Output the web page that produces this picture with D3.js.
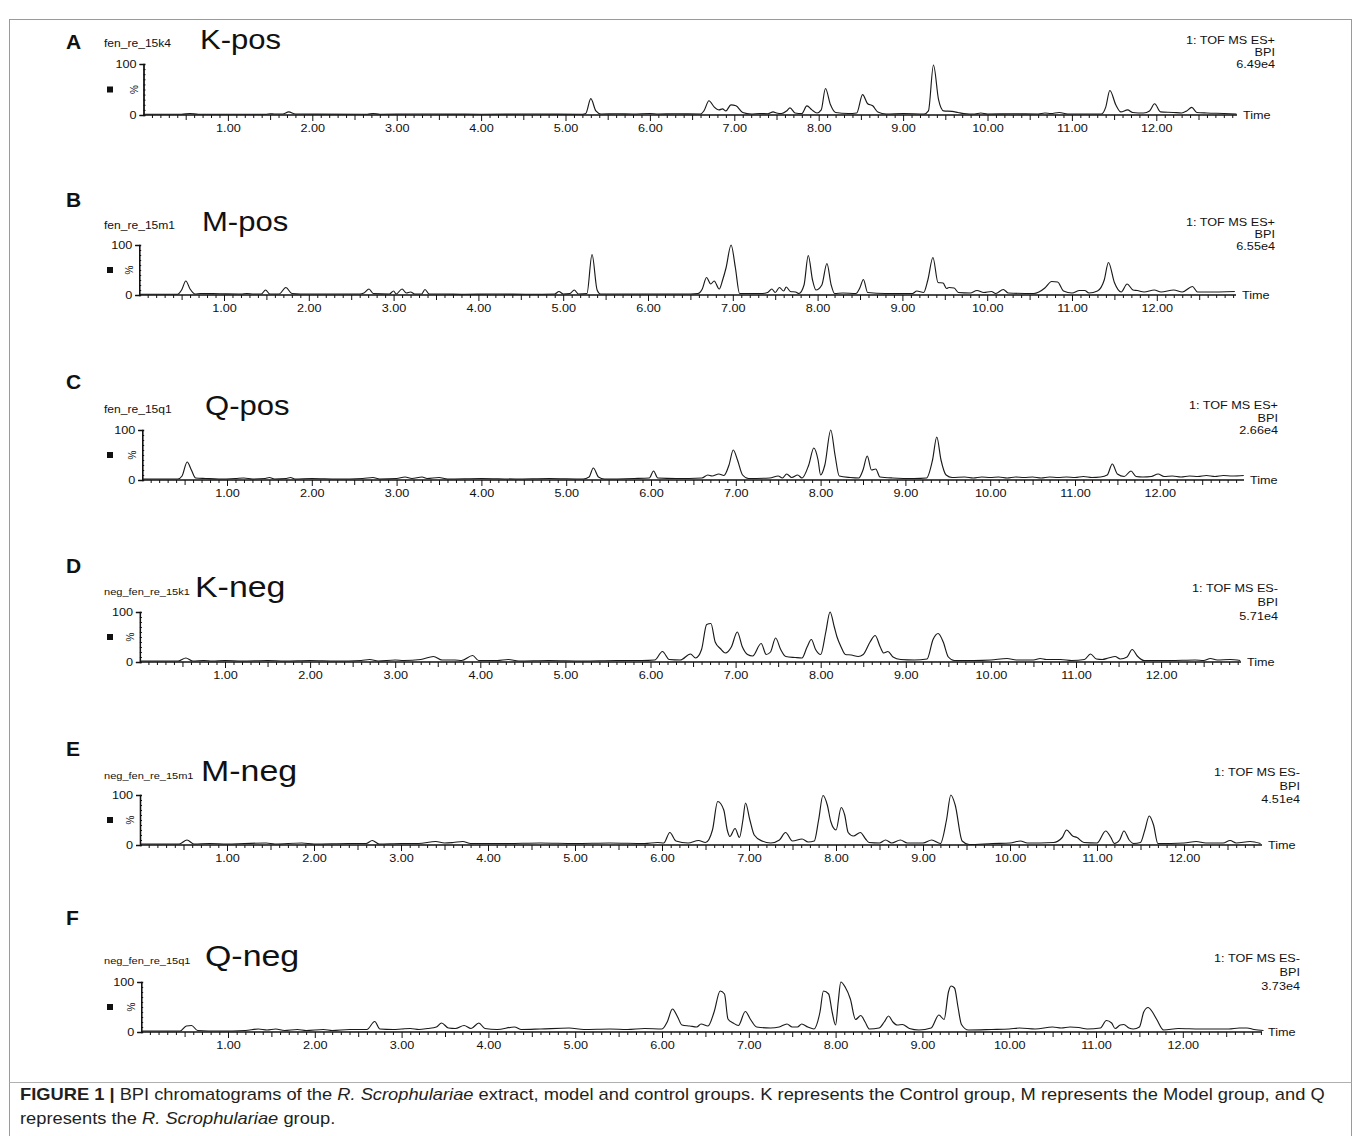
<!DOCTYPE html>
<html>
<head>
<meta charset="utf-8">
<script src="https://cdn.jsdelivr.net/npm/d3@7"></script>
<style>
  body { margin: 0; background: #fff; }
  svg { display: block; font-family: "Liberation Sans", Arial, sans-serif; }
</style>
</head>
<body>
<script>
// chromatogram traces: [retention time (min), relative intensity (%)]
const kPos = [[0,1.5],[0.45,1.5],[0.55,3],[0.65,1.5],[1.45,1.5],[1.5,2.5],[1.55,2],[1.65,2],[1.72,6],[1.8,2],[2.65,1.5],[2.72,3],[2.8,1.5],[3.2,2],[4.0,1.5],[4.6,2],[5.2,1.5],[5.24,3],[5.3,32],[5.36,8],[5.42,2],[5.6,2.5],[5.8,2],[6.0,3],[6.1,2],[6.3,2.5],[6.6,2],[6.64,8],[6.7,28],[6.76,16],[6.82,10],[6.86,12],[6.9,8],[6.96,20],[7.02,18],[7.1,5],[7.2,2],[7.3,3],[7.4,2.5],[7.46,6],[7.5,4],[7.56,3],[7.62,8],[7.66,14],[7.72,4],[7.8,3],[7.86,18],[7.92,10],[7.98,4],[8.03,10],[8.08,52],[8.14,20],[8.2,5],[8.35,3],[8.45,4],[8.52,40],[8.58,22],[8.64,18],[8.7,6],[8.8,2],[9.0,3],[9.25,2],[9.3,8],[9.36,98],[9.42,30],[9.48,8],[9.58,7],[9.65,5],[9.72,3],[9.85,2],[9.92,4],[10.0,2],[10.3,2.5],[10.6,2],[10.68,4],[10.75,3],[10.85,5],[10.95,2],[11.35,2],[11.4,15],[11.45,48],[11.52,20],[11.58,6],[11.66,10],[11.72,5],[11.85,4],[11.92,8],[11.98,22],[12.05,6],[12.2,5],[12.3,4],[12.36,8],[12.42,15],[12.48,5],[12.6,4],[12.8,3],[12.95,2]];
const mPos = [[0,1.5],[0.45,1.5],[0.5,10],[0.55,28],[0.6,12],[0.66,2],[0.72,3],[0.95,2.5],[1.2,2],[1.27,3],[1.35,2],[1.44,2],[1.49,10],[1.54,2],[1.65,2],[1.73,15],[1.8,3],[1.9,2],[2.6,2],[2.65,4],[2.71,12],[2.76,3],[2.95,2],[3.0,8],[3.03,2],[3.1,12],[3.15,4],[3.2,6],[3.25,2],[3.33,2],[3.37,11],[3.42,2],[3.6,2],[3.8,1.5],[4.2,2],[4.6,1.5],[4.9,2],[4.95,7],[5.0,2],[5.08,3],[5.13,10],[5.18,2],[5.28,3],[5.34,81],[5.4,10],[5.44,2],[5.7,2],[6.0,2],[6.5,2],[6.59,3],[6.64,12],[6.69,35],[6.74,22],[6.78,28],[6.84,12],[6.88,30],[6.92,54],[6.98,100],[7.03,55],[7.08,3],[7.35,3],[7.41,5],[7.46,12],[7.5,5],[7.55,15],[7.6,8],[7.63,16],[7.68,7],[7.74,6],[7.78,3],[7.84,20],[7.89,79],[7.94,30],[7.98,10],[8.05,20],[8.11,63],[8.16,20],[8.2,3],[8.3,4],[8.45,3],[8.5,15],[8.54,31],[8.59,5],[8.8,3],[9.12,3],[9.17,8],[9.25,5],[9.3,30],[9.36,75],[9.42,25],[9.48,24],[9.52,13],[9.55,15],[9.61,14],[9.66,5],[9.8,4],[9.88,9],[9.96,5],[10.05,7],[10.1,3],[10.19,11],[10.25,4],[10.55,3],[10.61,6],[10.68,14],[10.76,27],[10.83,26],[10.9,8],[11.0,4],[11.09,9],[11.15,9],[11.2,4],[11.3,8],[11.38,30],[11.43,65],[11.5,25],[11.58,6],[11.65,22],[11.72,10],[11.77,9],[11.85,6],[11.97,10],[12.05,6],[12.2,10],[12.3,6],[12.42,17],[12.48,6],[12.6,6],[12.92,7]];
const qPos = [[0,2],[0.42,2],[0.47,8],[0.53,36],[0.58,20],[0.63,4],[0.75,3],[0.9,2],[1.1,3],[1.2,4],[1.3,2],[1.45,3],[1.5,5],[1.56,2],[1.7,3],[1.75,5],[1.8,2],[2.0,3],[2.3,2],[2.6,3],[2.72,5],[2.8,2],[3.0,3],[3.1,6],[3.18,3],[3.3,6],[3.36,3],[3.5,5],[3.6,2],[4.0,3],[4.4,2],[4.8,3],[5.2,2],[5.27,6],[5.32,24],[5.38,6],[5.45,2],[5.8,3],[5.98,4],[6.03,18],[6.08,4],[6.3,3],[6.6,4],[6.67,10],[6.72,8],[6.8,12],[6.86,9],[6.92,30],[6.97,60],[7.02,40],[7.08,10],[7.15,3],[7.4,4],[7.5,8],[7.55,4],[7.6,12],[7.66,5],[7.73,10],[7.78,4],[7.86,30],[7.92,64],[7.97,40],[8.0,10],[8.05,30],[8.12,100],[8.17,50],[8.22,8],[8.35,5],[8.45,4],[8.5,20],[8.55,48],[8.6,20],[8.65,22],[8.7,6],[8.85,4],[9.1,3],[9.25,4],[9.32,40],[9.37,86],[9.42,40],[9.48,10],[9.55,5],[9.7,6],[9.8,4],[9.9,6],[10.0,5],[10.1,6],[10.2,4],[10.3,6],[10.4,5],[10.5,6],[10.6,4],[10.7,6],[10.8,5],[10.9,6],[11.0,5],[11.1,7],[11.2,5],[11.3,6],[11.38,10],[11.44,32],[11.5,12],[11.58,7],[11.66,18],[11.72,7],[11.8,6],[11.9,7],[11.98,12],[12.05,7],[12.15,8],[12.25,6],[12.35,8],[12.45,7],[12.55,9],[12.65,7],[12.75,9],[12.85,8],[12.99,9]];
const kNeg = [[0,2],[0.45,2],[0.54,8],[0.62,2],[0.75,3],[0.85,2],[1.0,3],[1.2,2],[1.5,3],[1.7,2],[2.0,3],[2.3,2],[2.6,3],[2.7,5],[2.8,2],[3.0,4],[3.1,3],[3.3,5],[3.45,11],[3.55,4],[3.7,4],[3.78,3],[3.91,13],[3.98,3],[4.2,3],[4.33,5],[4.45,2],[4.8,3],[5.2,2],[5.6,3],[5.9,3],[6.05,4],[6.14,21],[6.22,5],[6.35,4],[6.47,16],[6.53,8],[6.6,25],[6.66,75],[6.71,77],[6.76,40],[6.82,27],[6.88,18],[6.95,30],[7.02,60],[7.08,30],[7.14,15],[7.2,12],[7.3,37],[7.36,15],[7.41,20],[7.47,48],[7.53,25],[7.59,11],[7.7,9],[7.78,8],[7.84,30],[7.89,45],[7.94,25],[8.0,15],[8.06,60],[8.11,100],[8.16,70],[8.19,51],[8.24,30],[8.29,15],[8.36,14],[8.44,11],[8.5,15],[8.58,40],[8.64,53],[8.7,30],[8.74,18],[8.79,21],[8.85,10],[8.94,5],[9.1,4],[9.25,6],[9.32,45],[9.38,57],[9.44,40],[9.5,10],[9.57,3],[9.8,3],[10.0,4],[10.19,7],[10.3,4],[10.5,4],[10.58,7],[10.65,5],[10.72,5],[10.82,5],[10.95,3],[11.1,5],[11.17,16],[11.24,6],[11.31,5],[11.38,8],[11.46,11],[11.52,6],[11.6,10],[11.66,25],[11.72,12],[11.8,3],[12.1,3],[12.4,4],[12.5,3],[12.58,7],[12.66,4],[12.81,5],[12.93,3]];
const mNeg = [[0,2],[0.45,2],[0.54,10],[0.62,2],[0.8,3],[1.0,2],[1.2,3],[1.45,4],[1.55,2],[1.86,4],[2.0,2],[2.4,3],[2.6,3],[2.67,9],[2.75,2],[3.0,3],[3.2,3],[3.4,7],[3.5,4],[3.6,5],[3.71,7],[3.8,3],[4.2,3],[4.6,4],[5.0,3],[5.4,4],[5.8,3],[5.95,5],[6.02,4],[6.09,25],[6.16,8],[6.3,4],[6.42,9],[6.5,5],[6.58,30],[6.64,87],[6.71,70],[6.75,30],[6.78,17],[6.84,33],[6.89,15],[6.93,50],[6.96,84],[7.01,50],[7.06,20],[7.15,8],[7.25,4],[7.35,10],[7.42,25],[7.5,8],[7.61,12],[7.68,6],[7.75,8],[7.8,50],[7.85,99],[7.9,80],[7.94,47],[8.0,30],[8.06,75],[8.1,60],[8.14,25],[8.2,18],[8.28,25],[8.34,12],[8.38,5],[8.5,4],[8.57,10],[8.64,4],[8.74,10],[8.82,4],[9.0,4],[9.1,10],[9.2,3],[9.27,50],[9.32,100],[9.37,80],[9.45,8],[9.53,1],[9.8,3],[10.0,4],[10.12,8],[10.2,4],[10.5,5],[10.6,15],[10.65,30],[10.72,18],[10.77,15],[10.85,5],[11.0,4],[11.1,28],[11.16,15],[11.2,3],[11.26,10],[11.31,28],[11.37,10],[11.42,3],[11.5,5],[11.55,30],[11.6,58],[11.65,40],[11.7,3],[12.0,4],[12.14,7],[12.25,4],[12.45,4],[12.53,9],[12.6,4],[12.76,7],[12.88,3]];
const qNeg = [[0,2],[0.45,2],[0.52,12],[0.58,13],[0.65,3],[0.9,2],[1.2,3],[1.35,6],[1.45,4],[1.55,6],[1.65,3],[1.8,5],[1.9,3],[2.1,5],[2.2,3],[2.4,5],[2.6,5],[2.69,21],[2.75,6],[2.9,5],[3.0,6],[3.1,7],[3.2,5],[3.3,7],[3.4,10],[3.46,18],[3.54,8],[3.62,7],[3.72,13],[3.8,7],[3.89,18],[3.96,7],[4.1,5],[4.3,10],[4.38,5],[4.6,6],[4.93,8],[5.1,5],[5.4,6],[5.6,5],[5.8,7],[6.0,6],[6.06,20],[6.12,46],[6.18,30],[6.23,14],[6.32,12],[6.4,10],[6.45,16],[6.53,12],[6.6,40],[6.67,82],[6.72,76],[6.76,26],[6.82,18],[6.88,13],[6.96,41],[7.02,25],[7.09,10],[7.25,8],[7.35,10],[7.44,16],[7.5,10],[7.56,10],[7.61,16],[7.68,10],[7.75,6],[7.82,40],[7.86,82],[7.92,76],[7.96,40],[8.0,14],[8.03,60],[8.06,100],[8.11,90],[8.17,66],[8.23,25],[8.29,33],[8.34,20],[8.39,6],[8.5,8],[8.56,20],[8.61,32],[8.66,20],[8.71,14],[8.77,15],[8.85,7],[8.96,4],[9.1,8],[9.19,34],[9.25,25],[9.3,80],[9.33,92],[9.37,88],[9.41,50],[9.45,15],[9.53,4],[9.8,5],[10.0,6],[10.12,8],[10.3,6],[10.5,10],[10.6,8],[10.7,10],[10.8,9],[10.9,6],[11.05,8],[11.12,23],[11.18,18],[11.22,7],[11.28,14],[11.32,15],[11.38,8],[11.43,6],[11.5,10],[11.55,40],[11.6,49],[11.65,40],[11.7,25],[11.78,4],[11.95,7],[12.2,6],[12.53,6],[12.65,8],[12.74,8],[12.82,5],[12.93,3]];

const traces = [kPos, mPos, qPos, kNeg, mNeg, qNeg];
const panelLetters = ["A", "B", "C", "D", "E", "F"];
const sampleNames = ["fen_re_15k4", "fen_re_15m1", "fen_re_15q1", "neg_fen_re_15k1", "neg_fen_re_15m1", "neg_fen_re_15q1"];
const groupTitles = ["K-pos", "M-pos", "Q-pos", "K-neg", "M-neg", "Q-neg"];
const scanModes = ["1: TOF MS ES+", "1: TOF MS ES+", "1: TOF MS ES+", "1: TOF MS ES-", "1: TOF MS ES-", "1: TOF MS ES-"];
const bpiMax = ["6.49e4", "6.55e4", "2.66e4", "5.71e4", "4.51e4", "3.73e4"];
const timeTicks = [1, 2, 3, 4, 5, 6, 7, 8, 9, 10, 11, 12];
const pctTicks = [0, 100];

// page positions of each panel (px)
const layout = [
  { top: 64,  base: 115,  x0: 143.5, perMin: 84.4, xEnd: 1237, letterY: 49,  titleY: 49,  titleX: 200, infoX: 1275, infoY: 44,  infoGap: 12 },
  { top: 245, base: 295,  x0: 139.2, perMin: 84.8, xEnd: 1236, letterY: 207, titleY: 231, titleX: 202, infoX: 1275, infoY: 226, infoGap: 12 },
  { top: 430, base: 480,  x0: 142.2, perMin: 84.8, xEnd: 1244, letterY: 389, titleY: 415, titleX: 205, infoX: 1278, infoY: 409, infoGap: 12.5 },
  { top: 612, base: 662,  x0: 139.9, perMin: 85.1, xEnd: 1241, letterY: 573, titleY: 597, titleX: 195, infoX: 1278, infoY: 592, infoGap: 14 },
  { top: 795, base: 845,  x0: 140,   perMin: 87.0, xEnd: 1262, letterY: 756, titleY: 781, titleX: 201, infoX: 1300, infoY: 776, infoGap: 13.5 },
  { top: 982, base: 1032, x0: 141.2, perMin: 86.8, xEnd: 1262, letterY: 925, titleY: 966, titleX: 205, infoX: 1300, infoY: 962, infoGap: 14 }
];

const W = 1355, H = 1136;
const SX = 1.15; // the source figure text is a little stretched horizontally

const svg = d3.select("body").append("svg").attr("width", W).attr("height", H);

// outer frame + caption divider
svg.append("rect")
  .attr("x", 9.5).attr("y", 19.5).attr("width", 1342).attr("height", 1140)
  .attr("fill", "none").attr("stroke", "#9a9a9a");
svg.append("line")
  .attr("x1", 9.5).attr("x2", 1351.5).attr("y1", 1082.5).attr("y2", 1082.5)
  .attr("stroke", "#b0b0b0");

function putText(g, x, y, str, size, opts = {}) {
  return g.append("text")
    .attr("transform", `translate(${x},${y}) scale(${opts.sx || SX},1)`)
    .attr("font-size", size)
    .attr("font-weight", opts.bold ? "bold" : null)
    .attr("text-anchor", opts.anchor || "start")
    .attr("fill", "#111")
    .text(str);
}

traces.forEach((data, i) => {
  const L = layout[i];
  const g = svg.append("g");

  const x = d3.scaleLinear()
    .domain([0, (L.xEnd - L.x0) / L.perMin])
    .range([L.x0, L.xEnd]);
  const y = d3.scaleLinear().domain([0, 100]).range([L.base, L.top]);

  // headers
  putText(g, 66, L.letterY, panelLetters[i], 21, { bold: true, sx: 1 });
  const neg = i >= 3;
  putText(g, 104, L.titleY - 2, sampleNames[i], neg ? 9.6 : 10.5);
  putText(g, L.titleX, L.titleY, groupTitles[i], neg ? 29.5 : 27);

  [scanModes[i], "BPI", bpiMax[i]].forEach((s, k) => {
    putText(g, L.infoX, L.infoY + k * L.infoGap, s, 11, { anchor: "end" });
  });

  // time axis: minor 0.1, half 0.5, labelled whole minutes
  const tMax = x.domain()[1];
  const minor = d3.range(1, Math.floor(tMax * 10) + 1).map(v => v / 10).filter(v => Math.round(v * 10) % 5 !== 0);
  const halves = d3.range(0.5, tMax, 1);

  const xg = g.append("g").attr("transform", `translate(0,${L.base})`);
  xg.append("g").call(d3.axisBottom(x).tickValues(minor).tickSize(3).tickFormat(""));
  xg.append("g").call(d3.axisBottom(x).tickValues(halves).tickSize(5).tickFormat(""));
  xg.append("g").call(d3.axisBottom(x).tickValues(timeTicks).tickSize(6).tickFormat(d3.format(".2f")));
  xg.selectAll(".domain").remove();
  xg.selectAll("line").attr("stroke", "#111");
  xg.selectAll("text")
    .attr("font-size", 11).attr("font-family", null).attr("fill", "#111")
    .attr("y", 9).attr("transform", `scale(${SX},1)`);
  xg.append("line")
    .attr("x1", L.x0).attr("x2", L.xEnd).attr("stroke", "#111").attr("stroke-width", 1.6);

  putText(g, L.xEnd + 6, L.base + 4, "Time", 11);

  // intensity axis
  const yg = g.append("g").attr("transform", `translate(${L.x0},0)`);
  yg.call(d3.axisLeft(y).tickValues(pctTicks).tickSize(4).tickPadding(1).tickFormat(d3.format("d")));
  yg.append("g").call(d3.axisRight(y).tickValues(d3.range(10, 100, 10)).tickSize(2).tickFormat(""));
  yg.selectAll(".domain").attr("stroke", "#111").attr("stroke-width", 1.3);
  yg.selectAll("line").attr("stroke", "#111");
  yg.selectAll("text")
    .attr("font-size", 11).attr("font-family", null).attr("fill", "#111")
    .attr("transform", `scale(${SX},1)`).attr("dx", -1);

  const mid = (L.base + L.top) / 2;
  g.append("text")
    .attr("transform", `translate(${L.x0 - 6},${mid}) rotate(-90)`)
    .attr("font-size", 10).attr("text-anchor", "middle").attr("fill", "#111")
    .text("%");
  g.append("rect")
    .attr("x", 107).attr("y", mid - 3).attr("width", 6).attr("height", 6)
    .attr("fill", "#111");

  // trace
  const line = d3.line().curve(d3.curveMonotoneX).x(d => x(d[0])).y(d => y(d[1]));
  g.append("path")
    .datum(data)
    .attr("d", line)
    .attr("fill", "none")
    .attr("stroke", "#1a1a1a")
    .attr("stroke-width", 1.15)
    .attr("stroke-linejoin", "round");
});

// caption
const cap = svg.append("g").attr("font-size", 17).attr("fill", "#231f20");
const line1 = cap.append("text").attr("x", 0).attr("y", 0);
line1.append("tspan").attr("font-weight", "bold").text("FIGURE 1 | ");
line1.append("tspan").text("BPI chromatograms of the ");
line1.append("tspan").attr("font-style", "italic").text("R. Scrophulariae");
line1.append("tspan").text(" extract, model and control groups. K represents the Control group, M represents the Model group, and Q");
const line2 = cap.append("text").attr("x", 0).attr("y", 0);
line2.append("tspan").text("represents the ");
line2.append("tspan").attr("font-style", "italic").text("R. Scrophulariae");
line2.append("tspan").text(" group.");

const capScale = 1305 / line1.node().getComputedTextLength();
line1.attr("transform", `translate(20,1100) scale(${capScale},1)`);
line2.attr("transform", `translate(20,1124) scale(${capScale},1)`);
</script>
</body>
</html>
